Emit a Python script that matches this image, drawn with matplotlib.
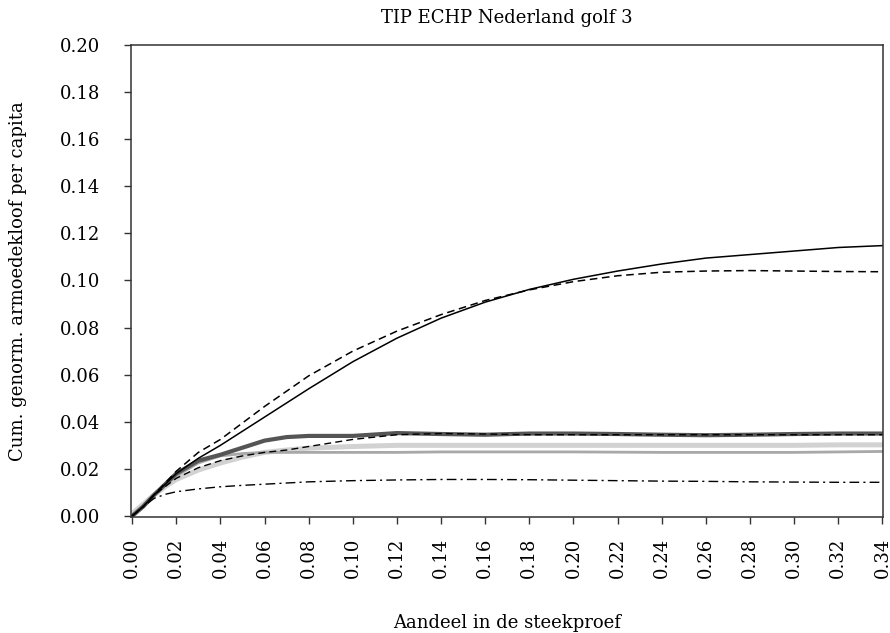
import numpy as np
import matplotlib
matplotlib.use("Agg")
from matplotlib import pyplot as plt

plt.rcParams['font.family'] = ['DejaVu Serif']

# share of sample (x) and cumulative normalised poverty gap per capita (y)
x = [0, 0.005, 0.01, 0.015, 0.02, 0.03, 0.04, 0.05, 0.06, 0.07, 0.08, 0.10,
     0.12, 0.14, 0.16, 0.18, 0.20, 0.22, 0.24, 0.26, 0.28, 0.30, 0.32, 0.34]

solid = [0, 0.004, 0.009, 0.0135, 0.018, 0.0245, 0.030, 0.036, 0.042, 0.048, 0.054, 0.0655,
         0.0755, 0.0840, 0.0908, 0.0962, 0.1005, 0.104, 0.107, 0.1095, 0.111, 0.1125, 0.114, 0.1148]
dashed = [0, 0.004, 0.009, 0.014, 0.019, 0.027, 0.0325, 0.0395, 0.0465, 0.053, 0.0595, 0.070,
          0.0785, 0.0855, 0.0915, 0.096, 0.0995, 0.102, 0.1035, 0.104, 0.1042, 0.104, 0.1038, 0.1037]
dark = [0, 0.004, 0.009, 0.0135, 0.018, 0.0235, 0.026, 0.029, 0.032, 0.0335, 0.034, 0.034,
        0.0352, 0.0348, 0.0345, 0.035, 0.035, 0.0348, 0.0345, 0.0343, 0.0345, 0.0348, 0.035, 0.035]
dashed_low = [0, 0.004, 0.009, 0.0125, 0.016, 0.0205, 0.0235, 0.0255, 0.027, 0.028, 0.0295, 0.0325,
              0.0345, 0.035, 0.0348, 0.0345, 0.0345, 0.0345, 0.0345, 0.0345, 0.0345, 0.0345, 0.0345, 0.0345]
light = [0.001, 0.005, 0.009, 0.0125, 0.0155, 0.0195, 0.0225, 0.025, 0.027, 0.028, 0.0288, 0.0295,
         0.030, 0.030, 0.030, 0.030, 0.030, 0.030, 0.030, 0.030, 0.030, 0.030, 0.0302, 0.0302]
medium = [0, 0.0045, 0.009, 0.013, 0.017, 0.0225, 0.0255, 0.0265, 0.027, 0.027, 0.027, 0.027,
          0.027, 0.0272, 0.0272, 0.0272, 0.0272, 0.0271, 0.027, 0.027, 0.027, 0.027, 0.0272, 0.0274]
dashdot = [0, 0.004, 0.0075, 0.0092, 0.0103, 0.0115, 0.0124, 0.013, 0.0135, 0.014, 0.0145, 0.015,
           0.0153, 0.0155, 0.0155, 0.0154, 0.0152, 0.015, 0.0148, 0.0147, 0.0145, 0.0144, 0.0143, 0.0143]

xticks = np.round(np.arange(0, 0.341, 0.02), 2)
yticks = np.round(np.arange(0, 0.201, 0.02), 2)

fig = plt.figure(figsize=(8.9, 6.33), dpi=100)
ax = fig.add_axes([0.147, 0.183, 0.845, 0.746])

ax.plot(x, light, color="#d2d2d2", lw=3.6, solid_capstyle="round")
ax.plot(x, medium, color="#a8a8a8", lw=2.0)
ax.plot(x, dark, color="#555555", lw=3.0, solid_capstyle="round")
ax.plot(x, dashed_low, color="black", lw=1.0, ls=(0, (5, 3)))
ax.plot(x, dashdot, color="black", lw=1.0, ls=(0, (7, 3, 1.5, 3)))
ax.plot(x, dashed, color="black", lw=1.1, ls=(0, (5, 3)))
ax.plot(x, solid, color="black", lw=1.1)

ax.set_xlim(-0.0006, 0.3402)
ax.set_ylim(-0.0005, 0.2)
ax.set_xticks(xticks)
ax.set_xticklabels([f"{v:.2f}" for v in xticks], rotation=90, fontsize=13)
ax.set_yticks(yticks)
ax.set_yticklabels([f"{v:.2f}" for v in yticks], fontsize=13)
ax.tick_params(direction="out", length=5, width=1, color="#333333")
ax.tick_params(axis="y", pad=17)
ax.tick_params(axis="x", pad=10)
for s in ax.spines.values():
    s.set_linewidth(1.1)
    s.set_color("#333333")

ax.set_title("TIP ECHP Nederland golf 3", fontsize=13, pad=16)
ax.set_xlabel("Aandeel in de steekproef", fontsize=13, labelpad=26)
ax.set_ylabel("Cum. genorm. armoedekloof per capita", fontsize=13, labelpad=24)

fig.savefig("out.png", dpi=100)
